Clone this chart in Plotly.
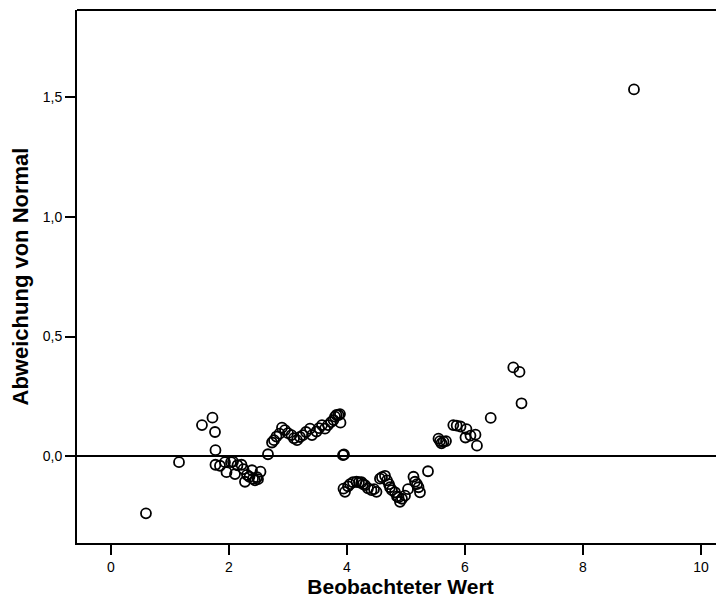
import plotly.graph_objects as go

# observed value vs. deviation from normal (detrended normal Q-Q plot)
beobachtet = [
    0.593, 1.153, 1.542, 1.720, 1.763, 1.771, 1.771, 1.847, 1.932, 1.958,
    2.034, 2.068, 2.102, 2.144, 2.212, 2.246, 2.271, 2.305, 2.347, 2.390,
    2.407, 2.441, 2.475, 2.492, 2.534,
    2.661, 2.729, 2.763, 2.805, 2.856, 2.898, 2.949, 3.000, 3.059, 3.102,
    3.153, 3.203, 3.254, 3.305, 3.373, 3.407, 3.483, 3.525, 3.576, 3.627,
    3.678, 3.729, 3.771, 3.797, 3.822, 3.856, 3.890, 3.881, 3.932, 3.949,
    3.941, 3.966, 4.017, 4.051, 4.102, 4.161, 4.203, 4.246, 4.271, 4.305,
    4.356, 4.415, 4.458, 4.500, 4.559, 4.593, 4.644, 4.678, 4.712, 4.729,
    4.763, 4.814, 4.847, 4.873, 4.898, 4.932, 4.983, 5.034, 5.127, 5.153,
    5.186, 5.212, 5.237, 5.373,
    5.551, 5.576, 5.602, 5.636, 5.678, 5.802, 5.859, 5.924, 6.008, 6.025,
    6.093, 6.178, 6.203, 6.436, 6.819, 6.924, 6.958, 8.864,
]
abweichung = [
    -0.239, -0.025, 0.130, 0.161, 0.101, 0.025, -0.036, -0.040, -0.025, -0.067,
    -0.025, -0.023, -0.075, -0.038, -0.036, -0.054, -0.107, -0.078, -0.086, -0.059,
    -0.094, -0.101, -0.088, -0.096, -0.065,
    0.008, 0.057, 0.067, 0.082, 0.094, 0.119, 0.109, 0.096, 0.088, 0.075,
    0.067, 0.080, 0.088, 0.101, 0.115, 0.088, 0.103, 0.117, 0.130, 0.115,
    0.130, 0.142, 0.151, 0.165, 0.172, 0.172, 0.140, 0.176, 0.004, 0.007,
    -0.136, -0.149, -0.126, -0.117, -0.109, -0.107, -0.109, -0.109, -0.117, -0.121,
    -0.134, -0.142, -0.138, -0.149, -0.094, -0.088, -0.082, -0.101, -0.117, -0.130,
    -0.142, -0.151, -0.168, -0.172, -0.191, -0.178, -0.165, -0.138, -0.086, -0.107,
    -0.117, -0.130, -0.151, -0.063,
    0.073, 0.063, 0.054, 0.061, 0.063, 0.130, 0.128, 0.124, 0.078, 0.113,
    0.086, 0.090, 0.044, 0.160, 0.371, 0.352, 0.221, 1.533,
]

x_ticks = [0, 2, 4, 6, 8, 10]
y_ticks = [0.0, 0.5, 1.0, 1.5]
y_labels = ["0,0", "0,5", "1,0", "1,5"]

fig = go.Figure()
fig.add_trace(go.Scatter(
    x=beobachtet,
    y=abweichung,
    mode="markers",
    marker=dict(symbol="circle-open", size=10, color="black",
                line=dict(width=1.8, color="black")),
    showlegend=False,
))

font_family = "Liberation Sans, Arial, sans-serif"

# the page body adds an 8px margin, so the figure is sized to fit inside it
fig.update_layout(
    width=716,
    height=599,
    margin=dict(l=69, r=0, t=2, b=64),
    paper_bgcolor="white",
    plot_bgcolor="white",
    font=dict(family=font_family, size=14, color="black"),
    xaxis=dict(
        range=[-0.576, 10.39],
        tickvals=x_ticks,
        ticktext=[str(v) for v in x_ticks],
        ticks="outside", ticklen=10, tickwidth=2, tickcolor="black",
        showline=True, linecolor="black", linewidth=2,
        showgrid=False, zeroline=False,
        title=dict(text="<b>Beobachteter Wert</b>",
                   font=dict(size=21, family=font_family), standoff=6),
        automargin=False,
    ),
    yaxis=dict(
        range=[-0.363, 1.865],
        tickvals=y_ticks,
        ticktext=y_labels,
        ticks="outside", ticklen=10, tickwidth=2, tickcolor="black",
        showline=True, linecolor="black", linewidth=2,
        showgrid=False,
        zeroline=True, zerolinecolor="black", zerolinewidth=2,
        title=dict(text="<b>Abweichung von Normal</b>",
                   font=dict(size=22, family=font_family), standoff=8),
        automargin=False,
    ),
    shapes=[dict(type="line", xref="paper", yref="paper",
                 x0=0, x1=1, y0=1, y1=1,
                 line=dict(color="black", width=2))],
)

fig.write_html("out.html")
